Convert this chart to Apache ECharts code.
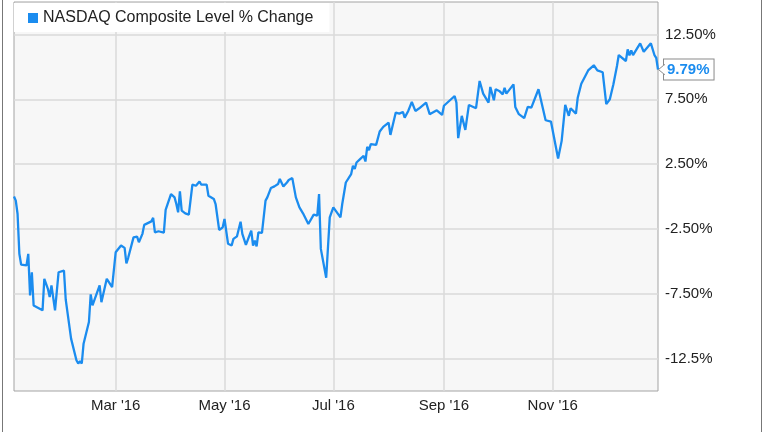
<!DOCTYPE html>
<html><head><meta charset="utf-8">
<script src="https://cdn.jsdelivr.net/npm/echarts@6/dist/echarts.min.js"></script>
<style>html,body{margin:0;padding:0;background:#fff}#c{width:764px;height:432px}</style>
</head><body><div id="c"></div>
<script>
const seriesName = 'NASDAQ Composite Level % Change';
const dates = [
'2016-01-04','2016-01-05','2016-01-06','2016-01-07','2016-01-08','2016-01-11','2016-01-12','2016-01-13','2016-01-14','2016-01-15',
'2016-01-20','2016-01-21','2016-01-23','2016-01-24','2016-01-25','2016-01-27','2016-01-29','2016-02-01','2016-02-02','2016-02-03',
'2016-02-05','2016-02-08','2016-02-09','2016-02-10','2016-02-11','2016-02-12','2016-02-15','2016-02-16','2016-02-17','2016-02-21',
'2016-02-22','2016-02-25','2016-02-26','2016-02-28','2016-03-01','2016-03-04','2016-03-06','2016-03-07','2016-03-08','2016-03-09',
'2016-03-11','2016-03-13','2016-03-14','2016-03-16','2016-03-17','2016-03-21','2016-03-22','2016-03-23','2016-03-25','2016-03-28',
'2016-03-29','2016-03-30','2016-04-01','2016-04-03','2016-04-04','2016-04-05','2016-04-06','2016-04-07','2016-04-09','2016-04-11',
'2016-04-13','2016-04-15','2016-04-16','2016-04-17','2016-04-18','2016-04-21','2016-04-22','2016-04-25','2016-04-26','2016-04-28',
'2016-04-30','2016-05-01','2016-05-03','2016-05-05','2016-05-06','2016-05-08','2016-05-10','2016-05-11','2016-05-13','2016-05-16',
'2016-05-17','2016-05-18','2016-05-19','2016-05-20','2016-05-22','2016-05-24','2016-05-25','2016-05-27','2016-05-29','2016-05-31',
'2016-06-01','2016-06-03','2016-06-05','2016-06-06','2016-06-08','2016-06-10','2016-06-12','2016-06-14','2016-06-15','2016-06-17',
'2016-06-20','2016-06-21','2016-06-22','2016-06-23','2016-06-24','2016-06-27','2016-06-28','2016-06-29','2016-07-01','2016-07-05',
'2016-07-06','2016-07-08','2016-07-11','2016-07-12','2016-07-13','2016-07-14','2016-07-16','2016-07-18','2016-07-19','2016-07-20',
'2016-07-21','2016-07-22','2016-07-25','2016-07-27','2016-07-29','2016-08-01','2016-08-02','2016-08-03','2016-08-05','2016-08-07',
'2016-08-09','2016-08-10','2016-08-12','2016-08-14','2016-08-16','2016-08-18','2016-08-22','2016-08-24','2016-08-28','2016-08-31',
'2016-09-01','2016-09-07','2016-09-08','2016-09-09','2016-09-11','2016-09-13','2016-09-15','2016-09-19','2016-09-21','2016-09-23',
'2016-09-26','2016-09-27','2016-09-29','2016-09-30','2016-10-02','2016-10-04','2016-10-05','2016-10-06','2016-10-10','2016-10-11',
'2016-10-13','2016-10-16','2016-10-18','2016-10-20','2016-10-24','2016-10-28','2016-10-31','2016-11-04','2016-11-06','2016-11-08',
'2016-11-10','2016-11-11','2016-11-14','2016-11-15','2016-11-17','2016-11-18','2016-11-21','2016-11-24','2016-11-26','2016-11-27',
'2016-11-29','2016-12-01','2016-12-03','2016-12-05','2016-12-07','2016-12-08','2016-12-12','2016-12-13','2016-12-14','2016-12-15',
'2016-12-16','2016-12-20','2016-12-22','2016-12-26','2016-12-27','2016-12-28','2016-12-29','2016-12-30'
];
const values = [
0.00,-0.32,-1.35,-4.42,-5.25,-5.32,-4.42,-7.63,-5.84,-8.40,
-8.78,-6.35,-7.12,-7.76,-6.86,-8.78,-5.84,-5.71,-7.96,-8.07,
-10.96,-12.63,-12.88,-12.70,-12.88,-11.35,-9.68,-7.55,-8.40,-6.86,
-8.15,-6.35,-6.45,-6.99,-4.30,-3.78,-3.96,-5.15,-4.73,-4.88,
-3.15,-3.09,-3.53,-2.88,-2.19,-1.92,-1.65,-2.76,-2.68,-2.78,
-1.04,-0.63,0.19,-0.07,-0.58,-1.22,0.39,-1.09,-1.30,-1.40,
0.91,0.83,0.96,1.16,0.91,0.91,0.06,-0.19,-0.58,-2.58,
-2.38,-1.73,-3.65,-3.78,-3.27,-3.07,-1.94,-2.88,-3.73,-2.63,
-3.78,-3.40,-3.84,-2.76,-2.81,-0.32,-0.07,0.65,0.78,0.96,
1.35,0.78,1.08,1.27,1.42,-0.07,-0.84,-1.30,-1.22,-2.12,
-1.40,-1.27,-1.48,0.19,-4.04,-6.27,-3.92,-1.61,-0.84,-1.61,
-0.58,1.08,1.73,2.37,2.12,2.62,2.88,3.14,2.70,3.83,
3.58,4.04,3.98,5.01,5.37,5.70,4.75,5.32,6.47,6.39,
6.52,6.08,6.60,7.29,6.60,6.78,7.24,6.35,6.65,6.29,
7.00,7.75,7.24,4.50,6.22,5.14,7.06,6.81,8.91,7.93,
7.24,8.45,7.42,8.27,8.14,7.88,8.39,7.93,8.65,6.91,
6.35,6.04,6.91,6.85,8.27,5.88,5.78,2.93,4.29,7.06,
6.22,6.81,6.39,7.62,8.70,8.60,9.75,10.12,9.73,9.62,
9.58,7.12,7.50,8.65,10.06,10.91,10.45,11.35,10.88,11.27,
10.91,11.81,11.16,11.81,11.85,10.91,10.70,9.79
];
const xTickDates = ['2016-03-01','2016-05-01','2016-07-01','2016-09-01','2016-11-01'];
const xTickLabels = ["Mar '16","May '16","Jul '16","Sep '16","Nov '16"];
const yTickValues = [-12.5,-7.5,-2.5,2.5,7.5,12.5];
const yTickLabels = ['-12.5%','-7.50%','-2.50%','2.50%','7.50%','12.50%'];
const yMin = -15, yMax = 15;
const endLabelText = '9.79%';

function ts(s){const p=s.split('-').map(Number);return Date.UTC(p[0],p[1]-1,p[2]);}
const xTickTs = xTickDates.map(ts);
const data = dates.map((d,i)=>[ts(d), values[i]]);
const blue = '#1b8cef';
const gridLine = {show:true, lineStyle:{color:'#dadada', width:1.5}};

const chart = echarts.init(document.getElementById('c'), null, {renderer:'canvas'});
chart.setOption({
  animation:false,
  backgroundColor:'#fff',
  textStyle:{fontFamily:'Liberation Sans, Arial, sans-serif'},
  grid:{left:14, right:106, top:2, bottom:41, show:true, backgroundColor:'#f7f7f7', borderColor:'#a3a3a3', borderWidth:1},
  legend:{
    show:true, left:14, top:3, icon:'rect', itemWidth:10, itemHeight:10, itemGap:10,
    backgroundColor:'#fff', padding:[7,16,6,14],
    textStyle:{fontSize:16, color:'#222', fontFamily:'Liberation Sans, Arial, sans-serif'},
    data:[seriesName]
  },
  xAxis:{
    type:'value', min:ts(dates[0]), max:ts(dates[dates.length-1]),
    axisLine:{show:false},
    axisTick:{show:false, customValues:xTickTs},
    axisLabel:{customValues:xTickTs, fontSize:15, color:'#222', margin:7, hideOverlap:false,
      formatter:(v)=>{const i=xTickTs.indexOf(v);return i>=0?xTickLabels[i]:'';}},
    splitLine:gridLine
  },
  yAxis:{
    type:'value', position:'right', min:yMin, max:yMax,
    axisLine:{show:false},
    axisTick:{show:false, customValues:yTickValues},
    axisLabel:{customValues:yTickValues, fontSize:15, color:'#222', margin:7, align:'left',
      formatter:(v)=>{const i=yTickValues.indexOf(v);return i>=0?yTickLabels[i]:'';}},
    splitLine:gridLine
  },
  series:[{
    name:seriesName, type:'line', data:data, showSymbol:false, symbol:'none',
    color:blue,
    lineStyle:{color:blue, width:2.3},
    endLabel:{show:true, formatter:endLabelText, color:blue, fontWeight:'bold', fontSize:15,
      backgroundColor:'#fff', borderColor:'#8a8a8a', borderWidth:1, padding:[3,4,2,3], distance:6}
  }],
  graphic:[
    {type:'line', shape:{x1:2.5,y1:0,x2:2.5,y2:432}, style:{stroke:'#777', lineWidth:1}, silent:true},
    {type:'line', shape:{x1:761.5,y1:0,x2:761.5,y2:432}, style:{stroke:'#777', lineWidth:1}, silent:true}
  ]
});
// small pointer joining the end label to the last point
const last = data[data.length-1];
const p = chart.convertToPixel({gridIndex:0}, last);
chart.setOption({graphic:[
  {type:'line', shape:{x1:2.5,y1:0,x2:2.5,y2:432}, style:{stroke:'#777', lineWidth:1}, silent:true},
  {type:'line', shape:{x1:761.5,y1:0,x2:761.5,y2:432}, style:{stroke:'#777', lineWidth:1}, silent:true},
  {type:'polygon', z:100, silent:true, shape:{points:[[p[0]+0.5,p[1]],[p[0]+6.5,p[1]-5],[p[0]+6.5,p[1]+5]]},
    style:{fill:'#fff', stroke:'#8a8a8a', lineWidth:1}},
  {type:'rect', z:101, silent:true, shape:{x:p[0]+5.8,y:p[1]-4.3,width:1.6,height:8.6}, style:{fill:'#fff'}}
]});
</script></body></html>
